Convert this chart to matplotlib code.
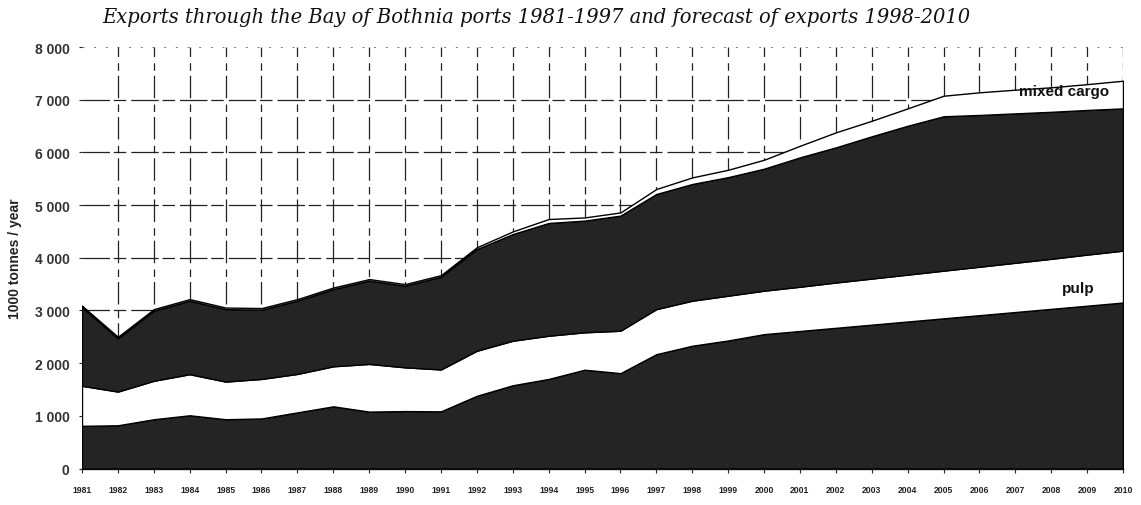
import matplotlib
matplotlib.use("Agg")
import matplotlib.pyplot as plt
import numpy as np

# Years covered: recorded 1981-1997, forecast 1998-2010
years = list(range(1981, 2011))
year_labels = [str(y) for y in years]

# Exports, 1000 tonnes / year, stacked from the bottom up
base_cargo = [810, 820, 935, 1010, 935, 950, 1065, 1180, 1080, 1090,
              1085, 1380, 1580, 1700, 1875, 1810, 2170, 2330, 2430, 2550,
              2610, 2670, 2730, 2790, 2850, 2910, 2970, 3030, 3090, 3150]
pulp = [760, 640, 730, 780, 715, 750, 730, 760, 905, 830,
        795, 855, 845, 820, 710, 805, 855, 855, 850, 825,
        840, 860, 875, 890, 905, 920, 935, 950, 970, 985]
main_cargo = [1490, 1010, 1330, 1395, 1375, 1315, 1390, 1465, 1580, 1550,
              1760, 1930, 2025, 2140, 2120, 2185, 2185, 2215, 2250, 2315,
              2455, 2565, 2700, 2825, 2930, 2880, 2835, 2790, 2745, 2700]
mixed_cargo = [30, 30, 30, 30, 30, 30, 30, 30, 30, 30,
               30, 35, 50, 75, 60, 60, 95, 125, 140, 170,
               220, 285, 295, 330, 390, 430, 450, 465, 490, 525]

y_ticks = [0, 1000, 2000, 3000, 4000, 5000, 6000, 7000, 8000]
y_tick_labels = ["0", "1 000", "2 000", "3 000", "4 000", "5 000", "6 000", "7 000", "8 000"]

title = "Exports through the Bay of Bothnia ports 1981-1997 and forecast of exports 1998-2010"

W, H = 1141, 506
fig = plt.figure(figsize=(W / 100, H / 100), dpi=100)
fig.patch.set_facecolor("white")

left, right, top, bottom = 82, 1123, 48, 469.5
ax = fig.add_axes([left / W, (H - bottom) / H, (right - left) / W, (bottom - top) / H])
ax.set_facecolor("white")

dark = "#242424"
ax.stackplot(years, base_cargo, pulp, main_cargo, mixed_cargo,
             colors=[dark, "white", dark, "white"],
             edgecolor="black", linewidth=1.0, zorder=3)

ax.set_xlim(years[0], years[-1])
ax.set_ylim(0, 8000)

# broken-looking grid
for yv in y_ticks[1:-1]:
    ax.axhline(yv, color="#222222", linewidth=0.9, linestyle=(0, (22, 3, 10, 4)), zorder=1)
ax.axhline(y_ticks[-1], color="#777777", linewidth=0.7, linestyle=(0, (2, 10)), zorder=1)
for xv in years[1:]:
    ax.axvline(xv, color="#222222", linewidth=0.9, linestyle=(0, (18, 4, 6, 5)), zorder=1)

ax.set_yticks(y_ticks)
ax.set_yticklabels(y_tick_labels, fontfamily="Liberation Sans", fontweight="bold",
                   fontsize=10, color="#333333")
ax.set_xticks(years)
ax.set_xticklabels(year_labels, fontfamily="Liberation Sans", fontweight="bold",
                   fontsize=6.2, color="#222222")
ax.tick_params(axis="x", length=3, width=0.8, pad=9, color="#222222")
ax.tick_params(axis="y", length=2, width=0.8, pad=7, color="#222222")

for s in ["top", "right", "left"]:
    ax.spines[s].set_visible(False)
ax.spines["bottom"].set_color("#222222")
ax.spines["bottom"].set_linewidth(1.0)

ax.set_ylabel("1000 tonnes / year", fontfamily="Liberation Sans", fontweight="bold",
              fontsize=10, color="#222222", labelpad=9)

ax.text(2009.6, 7160, "mixed cargo", ha="right", va="center",
        fontfamily="Liberation Sans", fontweight="bold", fontsize=11, color="#111111", zorder=5)
ax.text(2009.2, 3420, "pulp", ha="right", va="center",
        fontfamily="Liberation Sans", fontweight="bold", fontsize=11, color="#111111", zorder=5)

# title placed to run from x=102 px to about x=975 px
title_txt = fig.text(102 / W, 1 - 23 / H, title, ha="left", va="baseline",
                     fontfamily="DejaVu Serif", fontstyle="italic", fontsize=14, color="#111111")
renderer = fig.canvas.get_renderer()
width_px = title_txt.get_window_extent(renderer).width
title_txt.set_fontsize(14 * (975 - 102) / width_px)

fig.savefig("out.png", dpi=100, facecolor="white")
